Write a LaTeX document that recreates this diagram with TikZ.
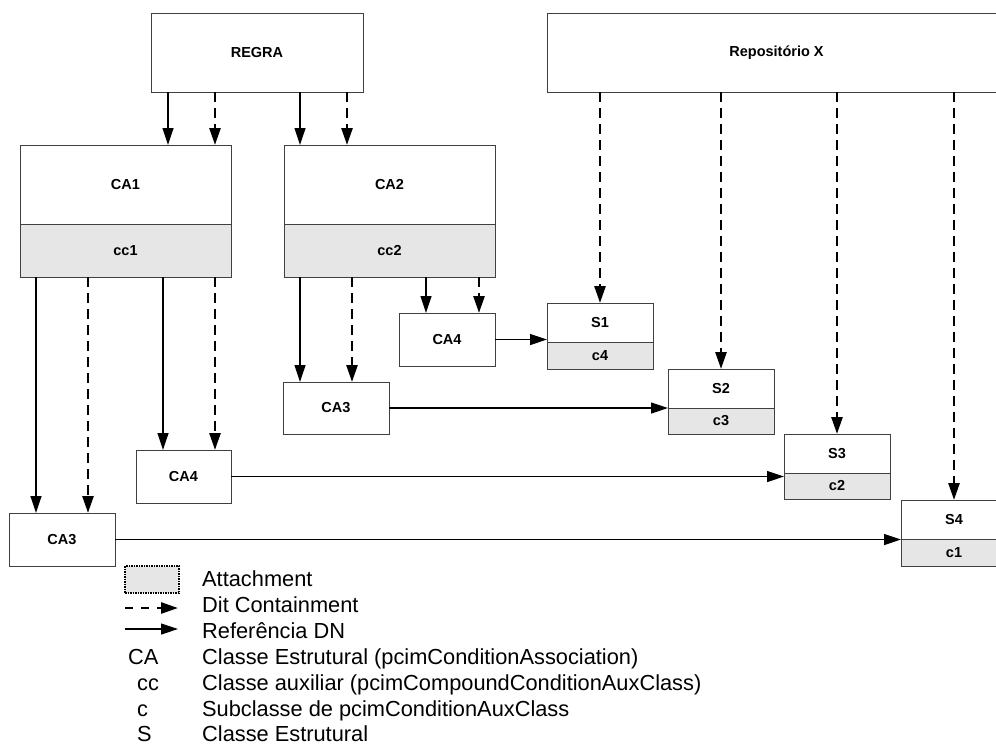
\documentclass[tikz,border=0pt]{standalone}
\usepackage{fontspec}
\setmainfont{Liberation Sans}
\usetikzlibrary{arrows.meta,positioning}
\definecolor{attachgray}{HTML}{E6E6E6}
\definecolor{edgegray}{HTML}{404040}

\begin{document}
\begin{tikzpicture}[x=1pt,y=-1pt,>={Triangle[length=17pt,width=11pt]}]

  \tikzstyle{box}=[rectangle,draw=edgegray,line width=1pt,fill=white,
                   inner sep=0pt,outer sep=0pt,font=\bfseries\fontsize{14.5}{17}\selectfont]
  \tikzstyle{attach}=[box,fill=attachgray]
  \tikzstyle{ref}=[->,line width=1.2pt]
  \tikzstyle{dit}=[->,line width=2.6pt,dash pattern=on 10pt off 6pt]
  \tikzstyle{legend}=[anchor=base west,inner sep=0pt,font=\fontsize{21.8}{26}\selectfont]

  \useasboundingbox (0,0) rectangle (996,745);
  \clip (0,0) rectangle (996,745);

  % top row
  \node [box,minimum width=212,minimum height=79] (regra) at (257,52.5) {REGRA};
  \node [box,minimum width=459,minimum height=79] (repo)  at (776.5,52.5) {Repositório X};

  % CA1 / CA2 with their attachments
  \node [box,minimum width=211,minimum height=79] (ca1) at (125.5,184.5) {CA1};
  \node [attach,minimum width=211,minimum height=53] (cc1) [below=0pt of ca1] {cc1};
  \node [box,minimum width=211,minimum height=79] (ca2) [right=53pt of ca1] {CA2};
  \node [attach,minimum width=211,minimum height=53] (cc2) [below=0pt of ca2] {cc2};

  \node [box,minimum width=96,minimum height=53]  (ca4r) at (447,339.5) {CA4};
  \node [box,minimum width=106,minimum height=52] (ca3r) at (336,408)   {CA3};
  \node [box,minimum width=95,minimum height=53]  (ca4l) at (183.5,476.5) {CA4};
  \node [box,minimum width=106,minimum height=53] (ca3l) at (62,539.5)  {CA3};

  % S boxes
  \node [box,minimum width=106,minimum height=39] (s1) at (600,322.5) {S1};
  \node [attach,minimum width=106,minimum height=27] (c4) [below=0pt of s1] {c4};
  \node [box,minimum width=106,minimum height=39] (s2) at (721,388.5) {S2};
  \node [attach,minimum width=106,minimum height=26] (c3) [below=0pt of s2] {c3};
  \node [box,minimum width=106,minimum height=39] (s3) at (837,453.5) {S3};
  \node [attach,minimum width=106,minimum height=26] (c2) [below=0pt of s3] {c2};
  \node [box,minimum width=106,minimum height=39] (s4) at (954,519.5) {S4};
  \node [attach,minimum width=106,minimum height=27] (c1) [below=0pt of s4] {c1};

  % containment and references
  \draw [ref] (168,0 |- regra.south) -- (168,0 |- ca1.north);
  \draw [dit] (215,0 |- regra.south) -- (215,0 |- ca1.north);
  \draw [ref] (300,0 |- regra.south) -- (300,0 |- ca2.north);
  \draw [dit] (347,0 |- regra.south) -- (347,0 |- ca2.north);

  \draw [ref] (36,0 |- cc1.south)  -- (36,0 |- ca3l.north);
  \draw [dit] (88,0 |- cc1.south)  -- (88,0 |- ca3l.north);
  \draw [ref] (163,0 |- cc1.south) -- (163,0 |- ca4l.north);
  \draw [dit] (215,0 |- cc1.south) -- (215,0 |- ca4l.north);

  \draw [ref] (300,0 |- cc2.south) -- (300,0 |- ca3r.north);
  \draw [dit] (352,0 |- cc2.south) -- (352,0 |- ca3r.north);
  \draw [ref] (426,0 |- cc2.south) -- (426,0 |- ca4r.north);
  \draw [dit] (479,0 |- cc2.south) -- (479,0 |- ca4r.north);

  \draw [dit] (repo.south -| s1.north) -- (s1.north);
  \draw [dit] (repo.south -| s2.north) -- (s2.north);
  \draw [dit] (repo.south -| s3.north) -- (s3.north);
  \draw [dit] (repo.south -| s4.north) -- (s4.north);

  \draw [ref] (ca4r.east) -- (ca4r.east -| s1.west);
  \draw [ref] (ca3r.east) -- (ca3r.east -| s2.west);
  \draw [ref] (ca4l.east) -- (ca4l.east -| s3.west);
  \draw [ref] (ca3l.east) -- (ca3l.east -| s4.west);

  % legend
  \node [attach,draw=black,line width=2pt,dash pattern=on 1.5pt off 1pt,
         minimum width=54,minimum height=27] (latt) at (152,579.5) {};
  \coordinate (dita) at (125,608);
  \coordinate (ditb) at (178,608);
  \coordinate (refa) at (125,629);
  \coordinate (refb) at (178,629);
  \draw [dit,dash pattern=on 8pt off 8pt] (dita) -- (ditb);
  \draw [ref] (refa) -- (refb);

  \node [legend] (tatt) at (202,586) {Attachment};
  \node [legend] (tdit) at (202,612) {Dit Containment};
  \node [legend] (tref) at (202,638) {Referência DN};
  \node [legend] (tca)  at (128,664) {CA};
  \node [legend] (dca)  at (202,664) {Classe Estrutural (pcimConditionAssociation)};
  \node [legend] (tcc)  at (137,690) {cc};
  \node [legend] (dcc)  at (202,690) {Classe auxiliar (pcimCompoundConditionAuxClass)};
  \node [legend] (tc)   at (137,716) {c};
  \node [legend] (dc)   at (202,716) {Subclasse de pcimConditionAuxClass};
  \node [legend] (ts)   at (137,741.5) {S};
  \node [legend] (ds)   at (202,741.5) {Classe Estrutural};
\end{tikzpicture}
\end{document}
